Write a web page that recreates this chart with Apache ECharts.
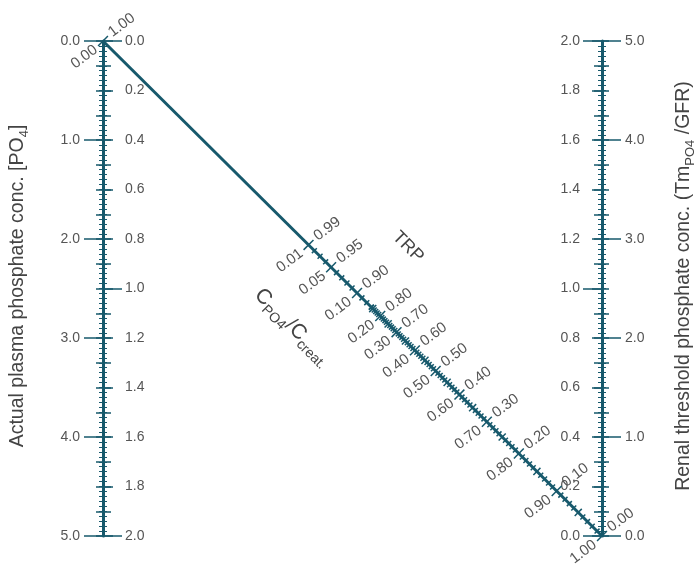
<!DOCTYPE html>
<html><head><meta charset="utf-8">
<script src="https://cdn.jsdelivr.net/npm/echarts@6/dist/echarts.min.js"></script>
<style>html,body{margin:0;padding:0;background:#fff}#c{width:697px;height:565px}</style>
</head><body><div id="c"></div>
<script>
// ---- scale data ----
const plasmaOuterTicks = [0.0, 1.0, 2.0, 3.0, 4.0, 5.0];          // left axis, labels on the left
const plasmaInnerTicks = [0.0, 0.2, 0.4, 0.6, 0.8, 1.0, 1.2, 1.4, 1.6, 1.8, 2.0]; // left axis, labels on the right
const thresholdInnerTicks = [0.0, 0.2, 0.4, 0.6, 0.8, 1.0, 1.2, 1.4, 1.6, 1.8, 2.0]; // right axis, labels on the left
const thresholdOuterTicks = [0.0, 1.0, 2.0, 3.0, 4.0, 5.0];       // right axis, labels on the right
const trpLabels = ['0.99','0.95','0.90','0.80','0.70','0.60','0.50','0.40','0.30','0.20','0.10','0.00'];
const ratioLabels = ['0.01','0.05','0.10','0.20','0.30','0.40','0.50','0.60','0.70','0.80','0.90','1.00'];
const diagonalStartLabels = { trp: '1.00', ratio: '0.00' };

const TEAL = '#17596c', GREY = '#555', TITLE = '#444', FONT = '"Liberation Sans", Arial, sans-serif';
const first = a => a[0], last = a => a[a.length - 1];
const step = a => +(a[1] - a[0]).toFixed(4);

// TmP/GFR = alpha * plasma P  (Walton & Bijvoet)
function alpha(t) { return t <= 0.86 ? t : 0.3 * t / (1 - 0.8 * t); }
// position along the diagonal (fraction of grid width)
function diagF(t) { return 1 / (1 + alpha(t)); }

const diagItems = [];
diagItems.push({ f: 0, kind: 2, trp: diagonalStartLabels.trp, ratio: diagonalStartLabels.ratio });
trpLabels.forEach((s, i) => diagItems.push({ f: diagF(parseFloat(s)), kind: 2, trp: s, ratio: ratioLabels[i] }));
const labelled = new Set(trpLabels.map(s => Math.round(parseFloat(s) * 100)));
for (let h = 1; h <= 98; h++) {
  if (labelled.has(h)) continue;
  diagItems.push({ f: diagF(h / 100), kind: h % 5 === 0 ? 1 : 0 });
}

function yAxis(o) {
  return {
    type: 'value', position: o.pos, offset: 0,
    min: first(o.ticks), max: last(o.ticks), interval: o.interval || step(o.ticks),
    inverse: !!o.inverse,
    splitLine: { show: false }, minorSplitLine: { show: false },
    axisLine: { show: !!o.line, onZero: false, lineStyle: { color: TEAL, width: 3 } },
    axisTick: { show: true, inside: !!o.inside, length: o.tick, lineStyle: { color: TEAL, width: 1.5 } },
    axisLabel: { show: !!o.labels, inside: !!o.inside, margin: o.margin || 0, color: GREY, fontSize: 14,
      fontFamily: FONT, hideOverlap: false, showMinLabel: true, showMaxLabel: true,
      formatter: v => v.toFixed(1) },
    minorTick: o.minor ? { show: true, splitNumber: o.minor, length: 4, lineStyle: { color: TEAL, width: 1 } } : { show: false }
  };
}

const yAxes = [
  // left axis
  yAxis({ pos: 'left', ticks: plasmaOuterTicks, inverse: true, line: true, tick: 19, labels: true, margin: 23, minor: 20 }),
  yAxis({ pos: 'left', ticks: plasmaInnerTicks, inverse: true, inside: true, tick: 10, labels: true, margin: 22, minor: 10 }),
  yAxis({ pos: 'left', ticks: plasmaInnerTicks, interval: 1, inverse: true, inside: true, tick: 19 }),
  yAxis({ pos: 'left', ticks: plasmaInnerTicks, interval: 0.1, inverse: true, inside: true, tick: 8 }),
  yAxis({ pos: 'left', ticks: plasmaInnerTicks, interval: 0.1, inverse: true, tick: 7 }),
  // right axis
  yAxis({ pos: 'right', ticks: thresholdOuterTicks, line: true, tick: 19, labels: true, margin: 23, minor: 20 }),
  yAxis({ pos: 'right', ticks: thresholdInnerTicks, inside: true, tick: 10, labels: true, margin: 22, minor: 10 }),
  yAxis({ pos: 'right', ticks: thresholdInnerTicks, interval: 1, inside: true, tick: 19 }),
  yAxis({ pos: 'right', ticks: thresholdInnerTicks, interval: 0.1, inside: true, tick: 8 }),
  yAxis({ pos: 'right', ticks: thresholdInnerTicks, interval: 0.1, tick: 7 })
];

const ROT = 37 * Math.PI / 180, GAP = 10;
function renderDiag(params, api) {
  const d = diagItems[params.dataIndex];
  const yMax = last(plasmaOuterTicks);
  const p0 = api.coord([0, first(plasmaOuterTicks)]), p1 = api.coord([1, yMax]);
  let dx = p1[0] - p0[0], dy = p1[1] - p0[1];
  const L = Math.hypot(dx, dy); dx /= L; dy /= L;
  const nx = dy, ny = -dx; // points up-right
  const p = api.coord([d.f, yMax * d.f]);
  const len = [3.5, 5, 7][d.kind];
  const children = [{
    type: 'line',
    shape: { x1: p[0] - nx * len, y1: p[1] - ny * len, x2: p[0] + nx * len, y2: p[1] + ny * len },
    style: { stroke: TEAL, lineWidth: 1.5 }
  }];
  const ts = { fill: GREY, fontSize: 15, fontFamily: FONT, verticalAlign: 'middle', textVerticalAlign: 'middle' };
  if (d.trp) children.push({ type: 'text', x: p[0] + nx * GAP, y: p[1] + ny * GAP, rotation: ROT,
    style: Object.assign({ text: d.trp, align: 'left', textAlign: 'left' }, ts) });
  if (d.ratio) children.push({ type: 'text', x: p[0] - nx * GAP, y: p[1] - ny * GAP, rotation: ROT,
    style: Object.assign({ text: d.ratio, align: 'right', textAlign: 'right' }, ts) });
  return { type: 'group', children };
}

const sub = { fontSize: 13, fontFamily: FONT, fill: TITLE, lineHeight: 26, verticalAlign: 'bottom' };
const chart = echarts.init(document.getElementById('c'), null, { renderer: 'canvas' });
chart.setOption({
  animation: false,
  backgroundColor: '#fff',
  grid: { left: 103, right: 95, top: 41, bottom: 29, containLabel: false, outerBoundsMode: 'none' },
  xAxis: { type: 'value', min: 0, max: 1, show: false },
  yAxis: yAxes,
  series: [
    { type: 'custom', coordinateSystem: 'cartesian2d', yAxisIndex: 0, clip: false, z: 2,
      renderItem: renderDiag, data: diagItems.map((d, i) => [d.f, i]) },
    { type: 'line', yAxisIndex: 0, symbol: 'none', z: 3, silent: true,
      lineStyle: { color: TEAL, width: 3 },
      data: [[0, first(plasmaOuterTicks)], [1, last(plasmaOuterTicks)]] }
  ],
  graphic: [
    { type: 'text', x: 18, y: 286, rotation: Math.PI / 2,
      style: { text: 'Actual plasma phosphate conc. [PO{s|4}]', fill: TITLE, fontSize: 19.5, fontFamily: FONT,
        align: 'center', verticalAlign: 'middle', rich: { s: sub } } },
    { type: 'text', x: 684, y: 286, rotation: Math.PI / 2,
      style: { text: 'Renal threshold phosphate conc. (Tm{s|PO4} /GFR)', fill: TITLE, fontSize: 19.5, fontFamily: FONT,
        align: 'center', verticalAlign: 'middle', rich: { s: sub } } },
    { type: 'text', x: 408, y: 247, rotation: -Math.PI / 4,
      style: { text: 'TRP', fill: TITLE, fontSize: 18, fontFamily: FONT, align: 'center', verticalAlign: 'middle' } },
    { type: 'text', x: 293, y: 327, rotation: -Math.PI / 4,
      style: { text: 'C{s|PO4}/C{s|creat.}', fill: TITLE, fontSize: 21, fontFamily: FONT, align: 'center', verticalAlign: 'middle',
        rich: { s: { fontSize: 14, fontFamily: FONT, fill: TITLE, lineHeight: 28, verticalAlign: 'bottom' } } } }
  ]
});
</script>
</body></html>
